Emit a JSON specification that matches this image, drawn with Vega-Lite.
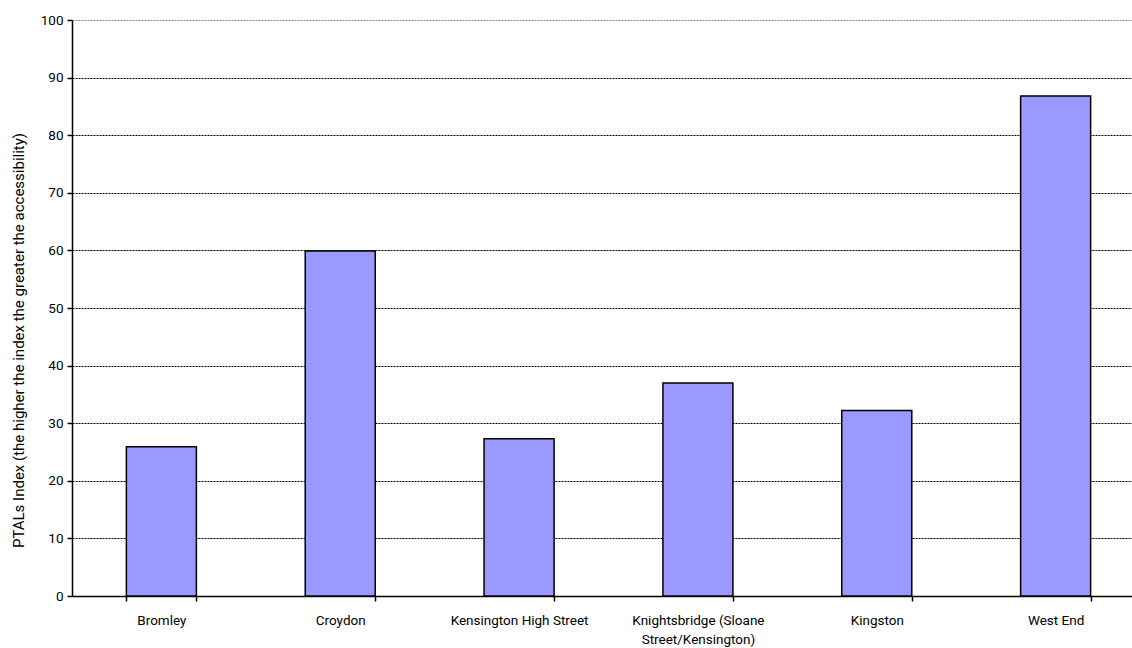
{
  "$schema": "https://vega.github.io/schema/vega-lite/v6.json",
  "autosize": "none",
  "width": 1059,
  "height": 576,
  "padding": {"left": 72, "top": 20, "right": 1, "bottom": 52},
  "background": "white",
  "config": {
    "view": {"stroke": null},
    "font": "Roboto",
    "axis": {
      "labelFont": "Roboto",
      "titleFont": "Roboto",
      "labelFontSize": 13.5,
      "titleFontSize": 15,
      "labelColor": "#000000",
      "titleColor": "#000000",
      "titleFontWeight": "normal",
      "domainColor": "#000000",
      "domainWidth": 1.5,
      "tickColor": "#000000",
      "tickWidth": 1.5
    }
  },
  "data": {
    "values": [
      {"centre": "Bromley", "ptal": 25.9},
      {"centre": "Croydon", "ptal": 59.9},
      {"centre": "Kensington High Street", "ptal": 27.3},
      {"centre": "Knightsbridge (Sloane Street/Kensington)", "ptal": 37.0},
      {"centre": "Kingston", "ptal": 32.2},
      {"centre": "West End", "ptal": 86.8}
    ]
  },
  "mark": {"type": "bar", "fill": "#9999FF", "stroke": "#000000", "strokeWidth": 1.5},
  "encoding": {
    "x": {
      "field": "centre",
      "type": "nominal",
      "sort": null,
      "scale": {"range": [0, 1073], "paddingInner": 0.6085, "paddingOuter": 0.304},
      "axis": {
        "title": null,
        "labelAngle": 0,
        "tickBand": "extent",
        "tickSize": 5,
        "labelPadding": 12,
        "labelLimit": 200,
        "labelLineHeight": 19,
        "labelExpr": "datum.label == 'Knightsbridge (Sloane Street/Kensington)' ? ['Knightsbridge (Sloane', 'Street/Kensington)'] : datum.label"
      }
    },
    "y": {
      "field": "ptal",
      "type": "quantitative",
      "scale": {"domain": [0, 100], "nice": false},
      "axis": {
        "title": "PTALs Index (the higher the index the greater the accessibility)",
        "values": [0, 10, 20, 30, 40, 50, 60, 70, 80, 90, 100],
        "tickSize": 5,
        "labelPadding": 4,
        "titlePadding": 14,
        "titleY": 320,
        "grid": true,
        "gridColor": {"condition": {"test": "datum.value == 100", "value": "#888888"}, "value": "#000000"},
        "gridDash": [2, 1],
        "gridWidth": 1
      }
    }
  }
}
